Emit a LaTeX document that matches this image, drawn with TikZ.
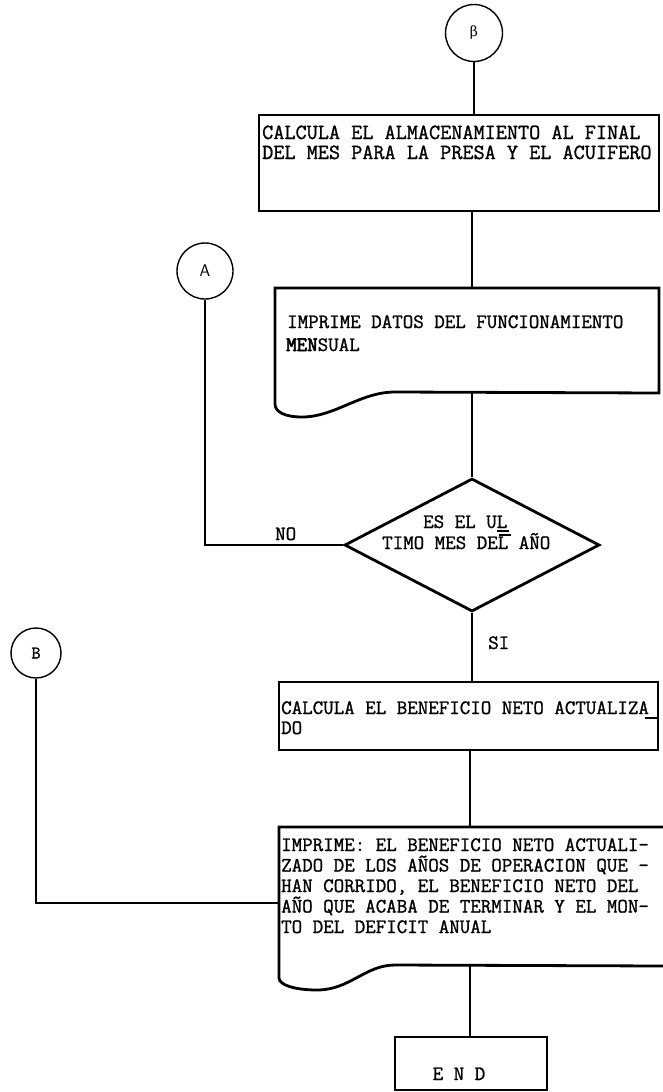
\documentclass[tikz,border=0pt]{standalone}
\usepackage{fontspec}
\setmonofont{Latin Modern Mono}[FakeBold=1.2]
\newfontfamily\greekfont{DejaVu Serif}
\usetikzlibrary{shapes.geometric}
\begin{document}
\begin{tikzpicture}[x=1pt,y=-1pt,
  box/.style={draw, line width=2.8pt, inner sep=0pt},
  conncircle/.style={draw, circle, line width=1.4pt, inner sep=0pt},
  link/.style={line width=2.8pt},
  tickline/.style={line width=1.2pt},
  txt/.style={anchor=base west, inner sep=0pt, font=\fontsize{20.4}{20}\selectfont\ttfamily},
  bigtxt/.style={anchor=base west, inner sep=0pt, font=\fontsize{21.6}{20}\selectfont\ttfamily},
]
\useasboundingbox (0,0) rectangle (662,1092);

% connectors (circles)
\node[conncircle, minimum size=57pt] (beta) at (474,33) {\fontsize{14}{14}\selectfont\greekfont β};
\node[conncircle, minimum size=56pt] (A) at (205,271) {\fontsize{17}{17}\selectfont\sffamily A};
\node[conncircle, minimum size=50pt] (B) at (36,653) {\fontsize{18}{18}\selectfont\ttfamily B};

% box 1
\node[box, minimum width=400pt, minimum height=96pt] (b1) at (459,163) {};
\node[bigtxt] (t1a) at (262,139) {CALCULA EL ALMACENAMIENTO AL FINAL};
\node[bigtxt] (t1b) at (262,159) {DEL MES PARA LA PRESA Y EL ACUIFERO};

% document 1
\coordinate (d1top) at (472,288);
\coordinate (d1bot) at (472,393);
\draw[box] (275,288) -- (659,288) -- (659,393) -- (395,392)
  .. controls (360,392) and (335,417) .. (302,417)
  .. controls (285,417) and (275,412) .. (275,404) -- cycle;
\node[txt] (t2a) at (287,328) {IMPRIME DATOS DEL FUNCIONAMIENTO};
\node[txt] (t2b) at (286,351) {{\addfontfeature{FakeBold=3}MEN}SUAL};

% decision
\node[diamond, draw, line width=2.8pt, minimum width=255pt, minimum height=133pt, inner sep=0pt] (dia) at (472,545) {};
\node[txt] (t3a) at (423,528) {ES EL UL};
\node[txt] (t3b) at (382,549) {TIMO MES DEL AÑO};
\draw[tickline] (497,531) -- (509,531);
\draw[tickline] (499,535) -- (511,535);

% box 2
\node[box, minimum width=379pt, minimum height=68pt] (b2) at (468.5,716) {};
\node[txt] (t4a) at (281,714) {CALCULA EL BENEFICIO NETO ACTUALIZA};
\node[txt] (t4b) at (281,734) {DO};
\draw[tickline] (645,718) -- (658,718);

% document 2
\coordinate (b3top) at (470,827);
\coordinate (b3bot) at (470,965);
\coordinate (b3left) at (279,903);
\draw[box] (664,827) -- (279,827) -- (279,978)
  .. controls (279,985) and (295,990) .. (317,990)
  .. controls (350,990) and (365,965) .. (395,965) -- (664,966);
\node[txt] (t5a) at (281,851) {IMPRIME: EL BENEFICIO NETO ACTUALI-};
\node[txt] (t5b) at (281,871.5) {ZADO DE LOS AÑOS DE OPERACION QUE -};
\node[txt] (t5c) at (281,892) {HAN CORRIDO, EL BENEFICIO NETO DEL};
\node[txt] (t5d) at (281,912.5) {AÑO QUE ACABA DE TERMINAR Y EL MON-};
\node[txt] (t5e) at (281,933) {TO DEL DEFICIT ANUAL};

% end
\node[box, minimum width=152pt, minimum height=53pt] (endbox) at (471,1063.5) {};
\node[txt, anchor=base] (t6) at (459,1080) {E N D};

% labels
\node[txt] (no) at (275,540) {NO};
\node[txt] (si) at (488,649) {SI};

% links
\draw[link] (beta.south) -- (beta.south |- b1.north);
\draw[link] (b1.south -| d1top) -- (d1top);
\draw[link] (d1bot) -- (dia.north);
\draw[link] (dia.south) -- (dia.south |- b2.north);
\draw[link] (b2.south -| b3top) -- (b3top);
\draw[link] (b3bot) -- (b3bot |- endbox.north);
\draw[link] (A.south) |- (dia.west);
\draw[link] (B.south) |- (b3left);
\end{tikzpicture}
\end{document}
